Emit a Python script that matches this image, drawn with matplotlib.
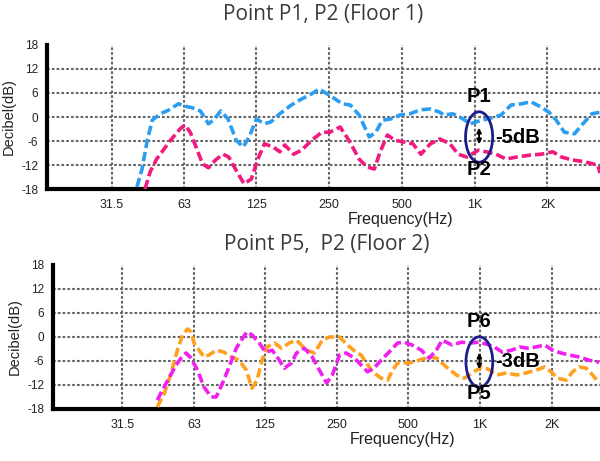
import matplotlib.pyplot as plt
from matplotlib.patches import Ellipse

# Floor 1: P1 (blue) and P2 (pink)
f1_p1 = [40.1, 42.1, 44.2, 46.4, 50.1, 54.1, 59.6, 63.4, 68.0, 73.4, 79.2, 83.1, 89.1, 95.5,
         103.1, 110.4, 116.7, 125.1, 135.0, 143.8, 156.2, 174.5, 192.3, 211.9, 227.1, 245.1,
         257.3, 283.5, 305.9, 332.5, 366.4, 390.1, 415.0, 448.1, 490.1, 540.2, 595.2, 655.7,
         717.7, 742.9, 813.0, 896.1, 960.1, 1043, 1158, 1285, 1415, 1560, 1707, 1881, 2030,
         2175, 2349, 2587, 2774, 3056, 3300]
db1_p1 = [-17.5, -13, -6, -0.8, 0.8, 1.7, 3.3, 2.7, 2.3, 1.5, -1.7, -0.8, 1.5, -0.5,
          -5.8, -7.5, -5, -0.5, -1.7, -1.2, 0.8, 3, 4.5, 5.8, 7, 5.8,
          5, 3.3, 3, 0.5, -5, -3.8, -0.8, -0.5, 0.5, 0.8, 1.8, 2,
          1.2, 0.5, 0.8, -0.5, -1.7, -1, -0.3, 0.5, 3, 3.3, 3.8, 2.5, 1.2,
          -0.8, -3.8, -4.2, -2, 0.8, 1.2]

f1_p2 = [43.3, 45.5, 48.4, 51.5, 55.2, 58.0, 60.4, 63.4, 66.6, 69.9, 74.9, 79.2, 84.9, 91.0,
         96.1, 103.1, 111.2, 119.2, 126.9, 135.0, 146.8, 156.2, 164.0, 178.2, 192.3, 211.9,
         233.5, 252.0, 277.7, 301.8, 332.5, 358.8, 384.6, 406.5, 435.7, 466.9, 514.6, 555.4,
         599.4, 655.7, 717.7, 790.8, 853.3, 927.4, 1036, 1118, 1224, 1349, 1496, 1707, 1881,
         2103, 2284, 2516, 2851, 3230, 3300]
db1_p2 = [-18, -13.7, -10.5, -8.3, -5.8, -4.3, -3, -2, -3.8, -7, -11.7, -12.7, -10.7, -9.3,
          -10, -13.3, -16.7, -15.5, -10.5, -6.7, -7.5, -8.7, -7, -9.3, -8.3, -5.8,
          -3.8, -3.8, -2.5, -5.8, -10.5, -12.5, -13, -8.7, -4.5, -5.8, -6.3, -6.7,
          -9.3, -6.7, -5.5, -6.7, -9.3, -10, -8.3, -8.7, -9.3, -10.5, -10, -9.5, -9.3,
          -8.7, -10, -10.7, -11.2, -12, -14]

# Floor 2: P5 (orange) and P6 (magenta)
f2_p5 = [44.2, 47.4, 50.5, 53.7, 56.4, 59.2, 61.3, 63.0, 66.2, 69.4, 72.9, 78.1, 84.3, 90.3,
         97.5, 104.5, 110.4, 115.9, 121.7, 127.8, 136.9, 146.8, 158.4, 169.7, 187.0, 201.9,
         217.9, 233.5, 257.3, 277.7, 301.8, 316.8, 353.8, 384.6, 409.4, 429.7, 451.1, 504.0,
         555.4, 611.9, 660.7, 722.7, 796.3, 859.3, 927.4, 1015, 1080, 1174, 1294, 1426, 1560,
         1719, 1868, 1988, 2117, 2300, 2448, 2605, 2792, 2972, 3163]
db2_p5 = [-17.5, -14, -9, -3.3, 0.5, 2, 1.3, -1.5, -3.3, -5, -4.5, -3.3, -3.8, -5,
          -5.8, -8.3, -12.8, -10.8, -5.8, -2.5, -1.5, -2.8, -1.5, -0.8, -3.3, -4,
          -0.8, 0, 0, -2, -3.8, -4.5, -8.7, -10.3, -10.8, -8.3, -6.5, -6.5,
          -5.8, -5, -5.3, -7.5, -9.5, -10.3, -9, -7.5, -8, -9.5, -9, -9.5, -9,
          -8.3, -7.5, -8.7, -10.3, -10.8, -8.7, -7.5, -7.8, -9.5, -11.5]

f2_p6 = [44.2, 46.4, 49.8, 53.0, 55.6, 58.4, 61.3, 65.2, 69.4, 74.4, 78.1, 83.1, 88.5, 94.8,
         100.9, 105.2, 110.4, 118.4, 126.0, 134.2, 143.8, 150.9, 161.8, 169.7, 183.2, 197.7,
         211.9, 227.1, 240.0, 257.3, 273.9, 297.6, 316.8, 337.2, 358.8, 384.6, 415.0, 451.1,
         480.1, 518.1, 567.0, 611.9, 655.7, 693.5, 763.9, 836.1, 908.5, 987.3, 1065, 1150,
         1241, 1358, 1466, 1582, 1719, 1868, 2016, 2191, 2364, 2605, 2871, 3163]
db2_p6 = [-15.8, -13.3, -10, -7, -5.3, -4, -5.3, -8.3, -12.5, -15, -15, -11.5, -7.5, -2.8,
          -0.3, 1.3, 0.5, -1.5, -3.8, -3.3, -5.8, -7.8, -6.5, -4, -2.8, -5,
          -8.3, -11.5, -9.5, -4.5, -4, -5.3, -7, -8.7, -7.8, -5.8, -3.8, -1.5,
          -1.3, -2, -3.3, -5.3, -3.3, -0.8, -2, -1.3, -1.5, -1.3, -1.8, -2.5,
          -3.8, -3.3, -2.5, -2.8, -2.5, -2, -3.3, -4, -4.5, -5, -5.8, -6.3]

tick_freqs = [31.5, 63, 125, 250, 500, 1000, 2000]
tick_labels = ["31.5", "63", "125", "250", "500", "1K", "2K"]
db_ticks = [-18, -12, -6, 0, 6, 12, 18]

plt.rcParams['font.family'] = ['Liberation Sans', 'DejaVu Sans']

fig = plt.figure(figsize=(6, 4.61), dpi=100)
ax1 = fig.add_axes([0.078, 0.590, 0.922, 0.3124])
ax2 = fig.add_axes([0.088, 0.1128, 0.912, 0.3124])


def style(ax, xlim, title, title_pad):
    ax.set_xscale('log', base=2)
    ax.set_xlim(xlim)
    ax.set_ylim(-18, 18)
    ax.set_xticks(tick_freqs)
    ax.set_xticklabels(tick_labels)
    ax.minorticks_off()
    ax.set_yticks(db_ticks)
    ax.set_yticklabels([str(v) for v in db_ticks])
    ax.tick_params(axis='x', length=0, labelsize=9, colors='#222222', pad=7)
    ax.tick_params(axis='y', length=0, labelsize=8.5, colors='#222222', pad=6)
    for y in db_ticks[1:-1]:
        ax.axhline(y, color='#666666', lw=1.5, ls=(0, (1.3, 1.0)), zorder=1)
    for x in tick_freqs:
        ax.axvline(x, color='#666666', lw=1.5, ls=(0, (1.3, 1.0)), zorder=1)
    for s in ['top', 'right']:
        ax.spines[s].set_visible(False)
    for s in ['left', 'bottom']:
        ax.spines[s].set_linewidth(3)
        ax.spines[s].set_color('black')
    ax.set_ylabel("Decibel(dB)", fontsize=10.5, labelpad=4, color='#222222')
    ax.set_xlabel("Frequency(Hz)", fontsize=11.5, color='#222222')
    ax.xaxis.set_label_coords(0.64, -0.16)
    ax.set_title(title, fontsize=15, color='#3a3a3a', family='Open Sans', pad=title_pad)


def mark(ax, f, db, top, bottom, diff):
    cx, cy = ax.transAxes.inverted().transform(ax.transData.transform((f, db)))
    ax.add_patch(Ellipse((cx, cy), 0.049, 0.35, transform=ax.transAxes,
                         fill=False, ec='#1c1c8f', lw=2, zorder=5))
    ax.annotate('', xy=(f, db + 3), xytext=(f, db - 2.5),
                arrowprops=dict(arrowstyle='<|-|>', color='black', lw=1.3,
                                mutation_scale=7), zorder=6)
    ax.text(f, db + 10, top, ha='center', va='center', fontsize=14.5,
            fontweight='bold', zorder=6)
    ax.text(f, db - 8, bottom, ha='center', va='center', fontsize=14.5,
            fontweight='bold', zorder=6)
    ax.text(f * 1.17, db, diff, ha='left', va='center', fontsize=14.5,
            fontweight='bold', zorder=6)


style(ax1, (17.0, 3298), "Point P1, P2 (Floor 1)", 18)
ax1.plot(f1_p1, db1_p1, color='#2b9ef2', lw=2.6, ls=(0, (2.6, 1.1)), zorder=3)
ax1.plot(f1_p2, db1_p2, color='#f2197f', lw=2.6, ls=(0, (2.6, 1.1)), zorder=3)
mark(ax1, 1043, -5, "P1", "P2", "-5dB")

style(ax2, (16.1, 3190), "Point P5,  P2 (Floor 2)", 11)
ax2.plot(f2_p5, db2_p5, color='#ffa11f', lw=2.6, ls=(0, (2.6, 1.1)), zorder=3)
ax2.plot(f2_p6, db2_p6, color='#f020ee', lw=2.6, ls=(0, (2.6, 1.1)), zorder=3)
mark(ax2, 994, -6.25, "P6", "P5", "-3dB")

plt.savefig("out.png", dpi=100)
